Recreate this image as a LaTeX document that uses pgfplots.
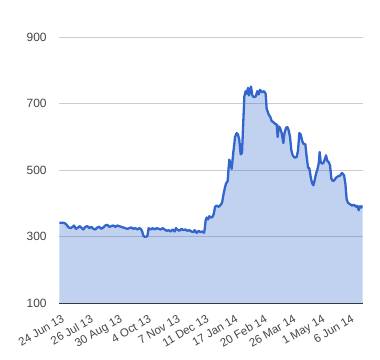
\documentclass[border=0pt]{standalone}
\usepackage{pgfplots}
\pgfplotsset{compat=1.18}
\usepackage{fontspec}
\setmainfont{Liberation Sans}
\definecolor{gblue}{HTML}{3366CC}
\definecolor{lbl}{HTML}{444444}
\definecolor{gridc}{HTML}{CCCCCC}
\definecolor{basec}{HTML}{333333}
\pgfplotstableread{
x y
178 342
190 342
196 340
200 336
206 328
212 326
218 330
222 334
228 324
234 328
240 332
246 326
250 322
256 330
262 332
268 326
274 330
280 324
286 322
292 328
298 330
304 324
310 328
316 334
322 336
328 330
334 332
340 334
346 330
352 334
358 332
364 330
370 328
376 326
382 324
388 326
394 328
400 324
406 326
412 322
418 326
422 324
426 318
430 304
434 300
438 300
442 302
446 326
452 322
458 326
464 322
470 326
476 324
482 322
488 326
494 322
500 318
506 320
512 316
518 322
524 316
528 326
532 322
538 318
544 324
550 320
556 322
562 318
568 320
574 316
580 314
584 320
590 312
596 318
602 314
608 316
612 312
614 322
617 350
620 358
624 352
628 362
632 358
638 360
642 372
645 390
650 394
656 390
662 396
666 402
670 425
674 445
678 460
683 468
686 510
688 532
692 520
695 504
700 555
703 580
705 600
710 612
714 608
718 590
722 548
726 552
730 650
733 722
737 738
740 730
744 748
747 725
750 740
753 752
757 725
762 720
767 722
772 738
776 728
780 742
786 735
792 738
797 730
800 685
806 668
811 660
815 648
820 645
825 640
830 638
833 600
836 632
840 628
845 612
850 582
853 610
858 628
862 630
866 620
870 600
874 560
878 545
884 538
890 540
894 560
898 612
902 608
906 590
910 580
916 578
920 540
924 508
928 506
932 480
936 462
940 455
944 470
948 490
952 502
956 520
959 555
962 525
966 520
970 522
975 535
978 545
982 528
986 525
990 515
994 475
998 468
1003 470
1008 478
1014 482
1020 484
1026 492
1032 485
1036 460
1040 412
1044 402
1050 398
1056 394
1062 396
1068 390
1072 393
1076 380
1080 392
1084 388
1088 394
}\datatable
\begin{document}
\begin{tikzpicture}
\path[use as bounding box] (0,0) rectangle (380bp,360bp);
\begin{axis}[
  at={(59.3bp,56.7bp)}, anchor=south west,
  scale only axis, width=303.4bp, height=266bp,
  xmin=178, xmax=1088, ymin=100, ymax=900,
  axis line style={draw=none},
  major tick length=0pt,
  ytick={300,500,700,900},
  extra y ticks={100},
  extra y tick style={grid style={color=basec, line width=1.2bp}},
  ymajorgrids,
  grid style={color=gridc, line width=0.8bp},
  xtick={183,269.9,356.8,443.7,530.6,617.5,704.4,791.3,878.2,965.1,1052},
  xticklabels={24 Jun 13,26 Jul 13,30 Aug 13,4 Oct 13,7 Nov 13,11 Dec 13,17 Jan 14,20 Feb 14,26 Mar 14,1 May 14,6 Jun 14},
  xticklabel style={font=\fontsize{11.5}{13}\selectfont, color=lbl, yshift=-11bp, rotate=30, anchor=north east, inner sep=0pt},
  yticklabel style={font=\fontsize{12}{14}\selectfont, color=lbl, anchor=east, inner sep=0pt, xshift=-12.5bp},
  /pgf/number format/assume math mode=true,
  /pgf/number format/1000 sep={},
  axis on top=false,
]
\addplot[draw=none, fill=gblue, fill opacity=0.3] table[x=x,y=y] {\datatable} \closedcycle;
\addplot[gblue, line width=2.3bp, line join=round] table[x=x,y=y] {\datatable};
\end{axis}
\end{tikzpicture}
\end{document}
